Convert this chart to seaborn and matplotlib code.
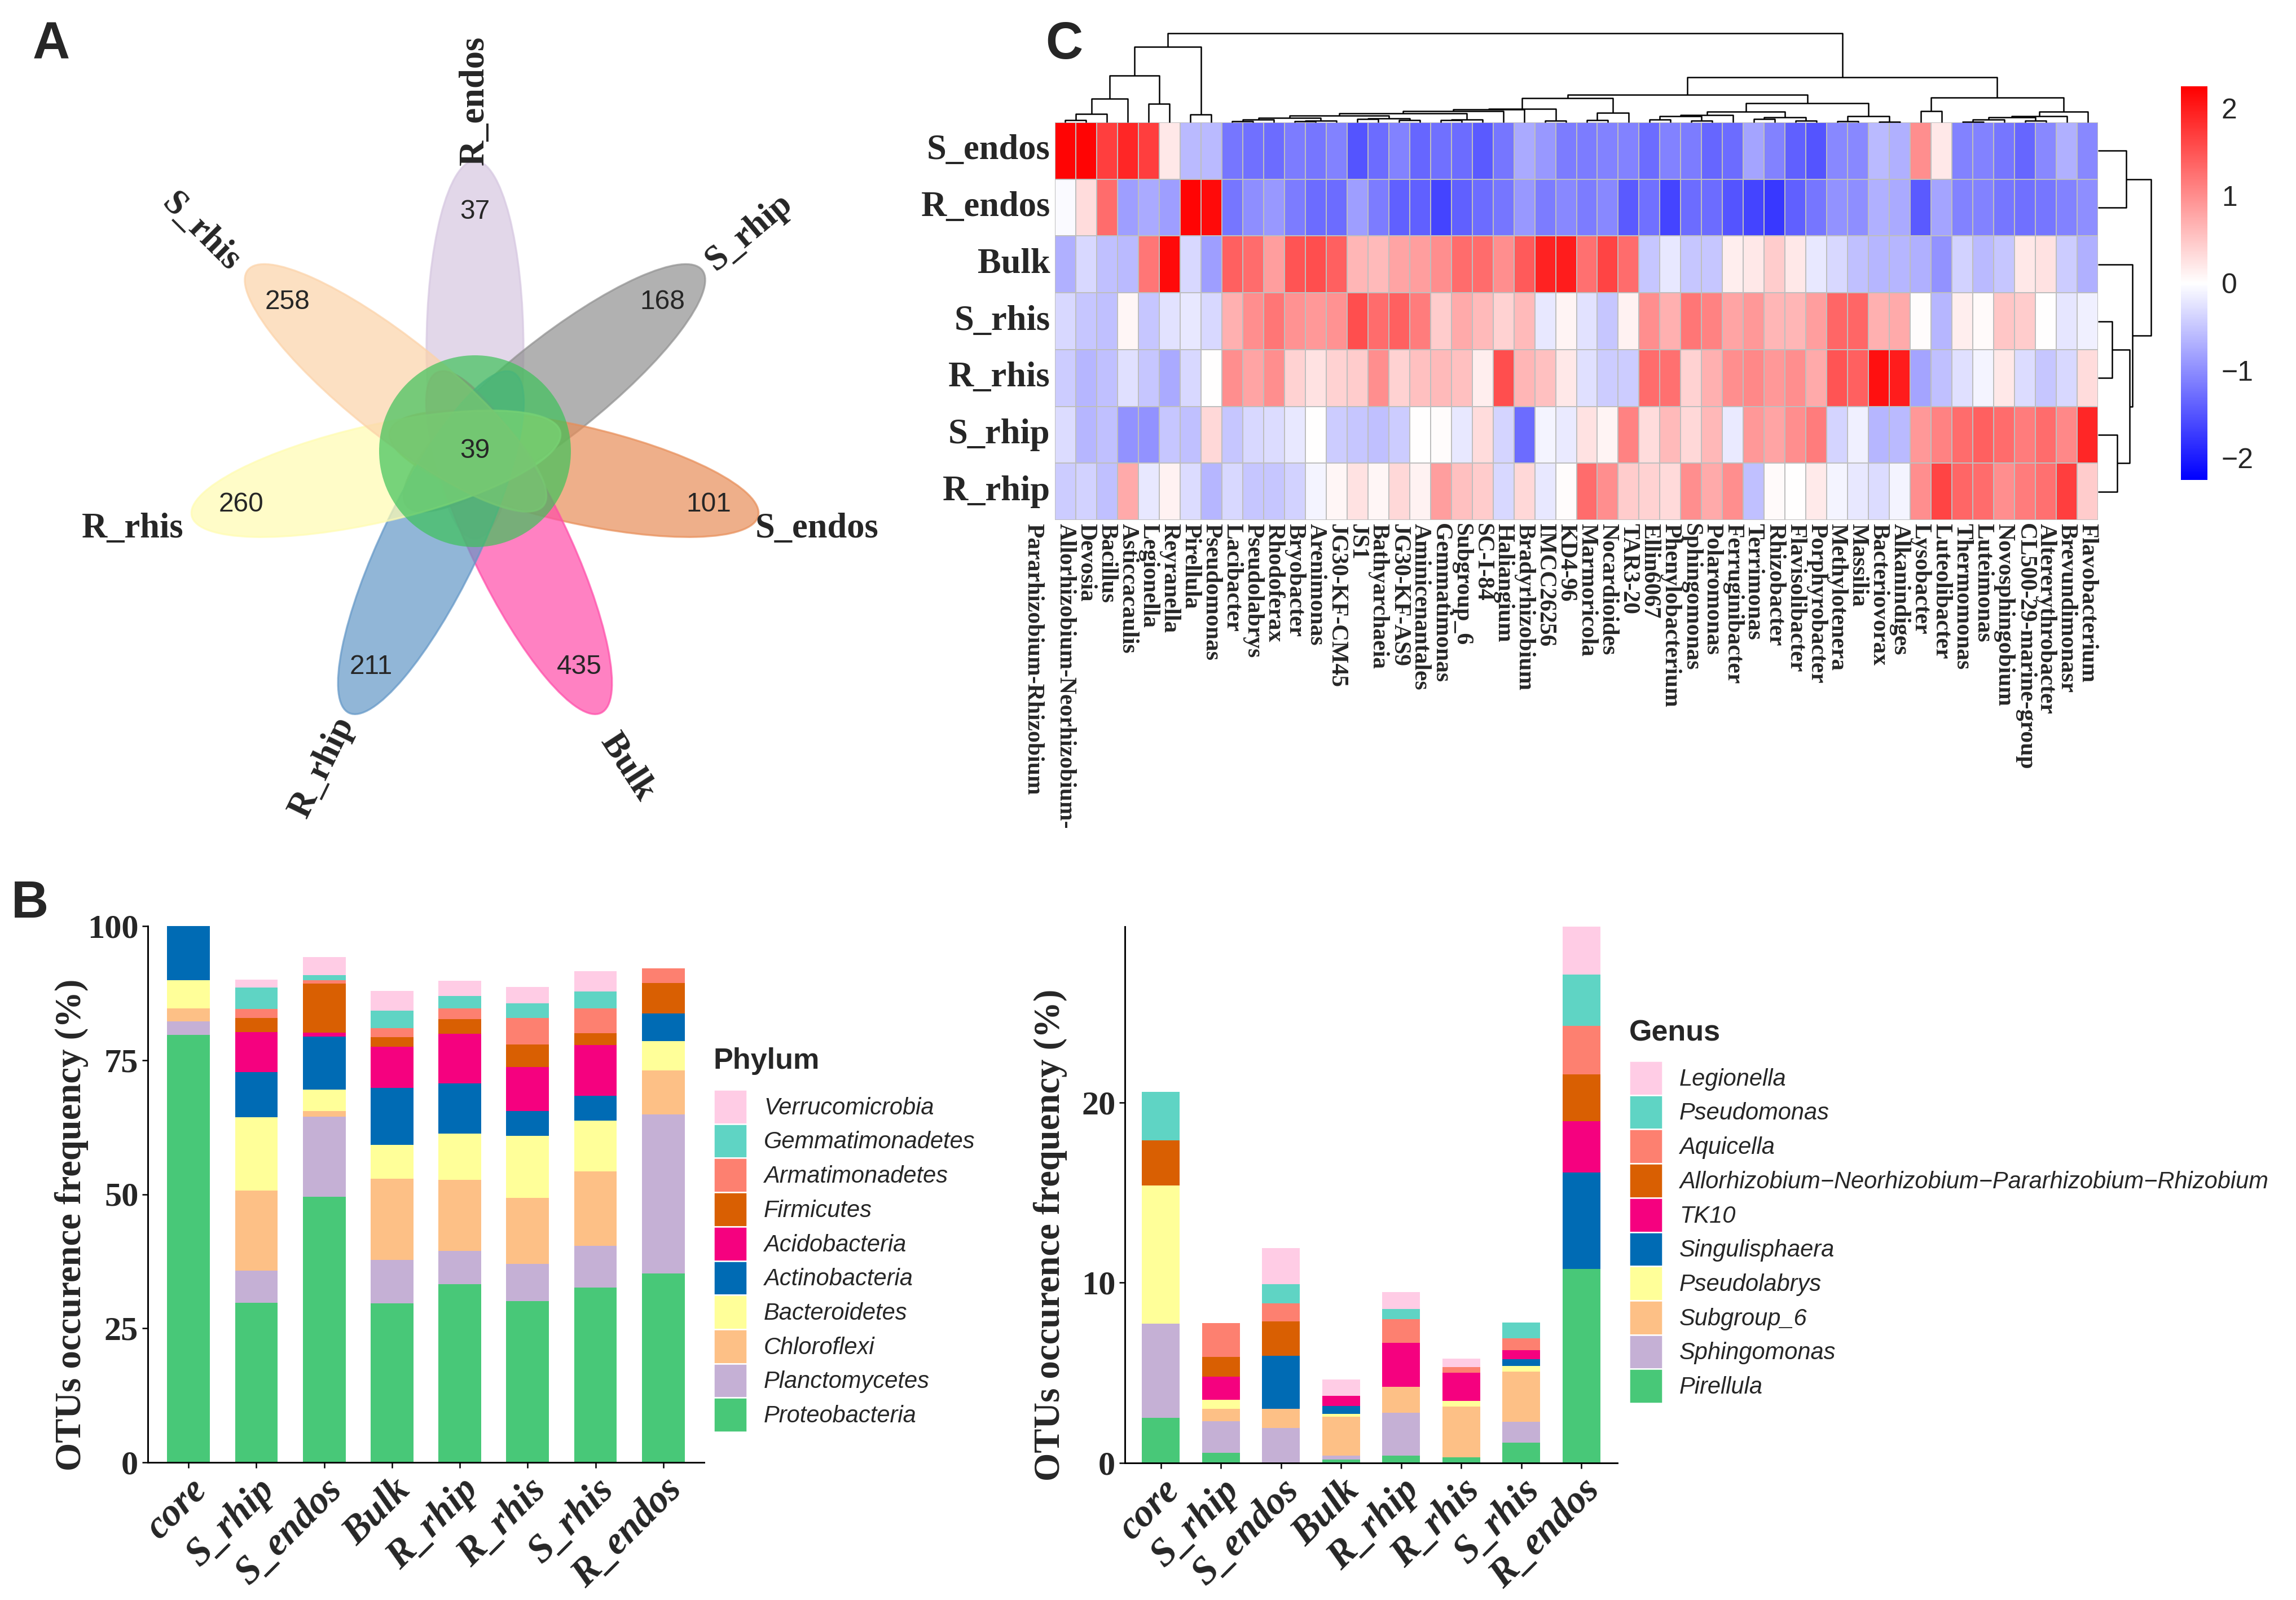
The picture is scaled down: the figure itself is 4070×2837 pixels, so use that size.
import numpy as np
import pandas as pd
import matplotlib
matplotlib.use("Agg")
import matplotlib.pyplot as plt
import matplotlib.transforms as mtransforms
from matplotlib.patches import Ellipse, Circle, Patch
from matplotlib.colors import LinearSegmentedColormap
import seaborn as sns

# ====================== DATA ======================
# ---- Panel A: flower (Venn) ----
venn_sets = ["R_endos", "S_rhip", "S_endos", "Bulk", "R_rhip", "R_rhis", "S_rhis"]
venn_unique = [37, 168, 101, 435, 211, 260, 258]
venn_core = 39

# ---- Panel C: heatmap (z-scores) ----
heat_rows = ["S_endos", "R_endos", "Bulk", "S_rhis", "R_rhis", "S_rhip", "R_rhip"]
heat_genera = [
    "Allorhizobium-Neorhizobium-\nPararhizobium-Rhizobium", "Devosia", "Bacillus", "Asticcacaulis",
    "Legionella", "Reyranella", "Pirellula", "Pseudomonas", "Lacibacter", "Pseudolabrys",
    "Rhodoferax", "Bryobacter", "Arenimonas", "JG30-KF-CM45", "JS1", "Bathyarchaeia",
    "JG30-KF-AS9", "Aminicenantales", "Gemmatimonas", "Subgroup_6", "SC-I-84", "Haliangium",
    "Bradyrhizobium", "IMCC26256", "KD4-96", "Marmoricola", "Nocardioides", "TAR3-20",
    "Ellin6067", "Phenylobacterium", "Sphingomonas", "Polaromonas", "Ferruginibacter",
    "Terrimonas", "Rhizobacter", "Flavisolibacter", "Porphyrobacter", "Methylotenera",
    "Massilia", "Bacteriovorax", "Alkanindiges", "Lysobacter", "Luteolibacter",
    "Thermomonas", "Luteimonas", "Novosphingobium", "CL500-29-marine-group",
    "Altererythrobacter", "Brevundimonasr", "Flavobacterium"]
hm_S_endos = [2.2, 2.2, 1.7, 1.9, 1.7, 0.2, -0.6, -0.6, -1.2, -1.25,
              -1.3, -1.15, -1.2, -1.1, -1.5, -1.3, -1.1, -1.35, -1.25, -1.3,
              -1.45, -1.2, -0.75, -0.9, -1.15, -1.15, -1.1, -1.1, -1.3, -1.1,
              -1.15, -1.35, -1.3, -0.8, -1.1, -1.4, -1.5, -1.05, -1.05, -0.6,
              -0.7, 1.0, 0.2, -1.1, -1.1, -1.2, -1.35, -1.05, -0.7, -1.05]
hm_R_endos = [-0.05, 0.3, 1.3, -0.85, -0.75, -0.85, 2.2, 2.15, -1.2, -1.0,
              -0.9, -1.15, -1.3, -1.3, -0.85, -1.15, -1.4, -1.4, -1.65, -1.4,
              -1.3, -1.2, -0.9, -1.15, -1.05, -1.15, -1.05, -1.45, -1.25, -1.65,
              -1.3, -1.3, -1.5, -1.65, -1.75, -1.4, -1.2, -0.95, -1.0, -0.7,
              -0.75, -1.45, -0.8, -1.1, -1.1, -1.2, -1.25, -1.2, -1.1, -1.0]
hm_Bulk = [-0.7, -0.35, -0.55, -0.6, 1.2, 2.15, -0.35, -0.85, 1.4, 1.3,
           0.85, 1.5, 1.55, 1.4, 0.65, 0.6, 0.8, 0.85, 1.0, 1.3,
           1.3, 1.0, 1.45, 1.95, 2.0, 1.25, 1.65, 1.3, -0.5, -0.2,
           -0.5, -0.5, 0.15, 0.2, 0.45, 0.2, -0.2, -0.35, -0.55, -0.65,
           -0.65, -0.7, -0.95, -0.4, -0.6, -0.5, 0.2, 0.25, -0.45, -0.7]
hm_S_rhis = [-0.35, -0.5, -0.55, 0.08, -0.5, -0.25, -0.2, -0.35, 0.7, 1.0,
             1.2, 0.95, 0.9, 0.95, 1.55, 1.3, 1.4, 1.15, 0.45, 0.75,
             0.6, 0.4, 0.6, -0.2, 0.1, -0.25, -0.5, 0.12, 1.0, 0.7,
             1.2, 1.1, 0.8, 0.9, 0.65, 0.65, 0.85, 1.35, 1.35, 0.7,
             0.75, 0.03, -0.65, 0.15, 0.05, 0.5, 0.45, 0.0, -0.22, -0.13]
hm_R_rhis = [-0.45, -0.65, -0.55, -0.28, -0.5, -0.75, -0.35, 0.0, 1.0, 0.8,
             1.0, 0.4, 0.25, 0.4, 0.45, 1.0, 0.4, 0.55, 0.6, 0.55,
             0.15, 1.55, 0.65, 0.55, 0.2, -0.28, -0.45, -0.45, 1.3, 1.25,
             0.4, 0.7, 1.0, 1.05, 0.9, 1.0, 0.75, 1.5, 1.4, 2.1,
             2.0, -0.8, -0.55, -0.28, -0.1, 0.2, -0.3, -0.5, -0.35, 0.3]
hm_S_rhip = [-0.3, -0.65, -0.55, -0.95, -0.95, -0.5, -0.55, 0.35, -0.5, -0.35,
             -0.3, -0.2, 0.0, -0.45, -0.5, -0.55, -0.45, 0.0, 0.03, -0.2,
             0.3, -0.38, -1.3, -0.1, -0.18, 0.25, 0.1, 1.1, 0.3, 0.6,
             0.35, 0.62, -0.18, 0.9, 0.8, 1.0, 1.15, -0.38, -0.13, -0.65,
             -0.6, 0.9, 1.1, 1.3, 1.4, 1.3, 1.15, 1.3, 1.05, 1.9]
hm_R_rhip = [-0.45, -0.4, -0.55, 0.75, -0.2, 0.12, -0.3, -0.65, -0.35, -0.5,
             -0.5, -0.4, -0.1, 0.08, 0.25, 0.08, 0.35, 0.12, 0.85, 0.55,
             0.45, -0.35, 0.35, -0.2, 0.03, 1.3, 1.0, 0.45, 0.4, 0.33,
             1.0, 0.75, 1.0, -0.55, 0.05, 0.0, 0.18, -0.1, -0.2, -0.3,
             -0.1, 1.0, 1.65, 1.35, 1.3, 1.0, 1.15, 1.25, 1.7, 0.45]
# dendrogram merges: [height, left, right]; leaves are column / row indices
col_tree = [158,
            [134, [83, [42, [15, [3.7, 0, 1], 2], 3], [33, 4, 5]], [14, 6, 7]],
            [80,
             [49,
              [43.3,
               [24.3,
                [23.3, [20, [15.7, [12, [7.7, [4.7, [2, 8, 9], 10], [3.3, [2, 11, 12], 13]],
                                    [7, [6, 14, 15], [4.3, 16, 17]]],
                              [5.3, [3.7, 18, 19], 20]], 21], 22],
                [3.3, 23, 24]],
               [17, [3.7, 25, 26], 27]],
              [34,
               [19, [13, [11.3, [5, 28, 29], [3, 30, 31]], 32], [9, [5.7, 33, 34], [3, 35, 36]]],
               [11, [2, 37, 38], [1.3, 39, 40]]]],
             [43.7, [20, 41, 42],
              [19, [11.3, [8.7, [4.7, [1.3, 43, 44], 45], [3.3, 46, 47]], 48], 49]]]]
row_tree = [94, [50, 0, 1], [61, 2, [56, [25, 3, 4], [34, 5, 6]]]]

# ---- Panel B: stacked bars ----
samples = ["core", "S_rhip", "S_endos", "Bulk", "R_rhip", "R_rhis", "S_rhis", "R_endos"]
phyla = ["Proteobacteria", "Planctomycetes", "Chloroflexi", "Bacteroidetes", "Actinobacteria",
         "Acidobacteria", "Firmicutes", "Armatimonadetes", "Gemmatimonadetes", "Verrucomicrobia"]
proteobacteria = [79.7, 29.8, 49.5, 29.7, 33.2, 30.1, 32.6, 35.2]
planctomycetes = [2.5, 6.0, 15.0, 8.1, 6.2, 6.9, 7.8, 29.7]
chloroflexi = [2.5, 14.9, 1.0, 15.1, 13.3, 12.3, 13.9, 8.2]
bacteroidetes = [5.2, 13.7, 4.0, 6.3, 8.6, 11.6, 9.4, 5.4]
actinobacteria = [10.1, 8.4, 9.9, 10.6, 9.4, 4.6, 4.6, 5.2]
acidobacteria = [0.0, 7.4, 0.7, 7.7, 9.2, 8.2, 9.5, 0.0]
firmicutes = [0.0, 2.7, 9.2, 1.8, 2.7, 4.2, 2.2, 5.7]
armatimonadetes = [0.0, 1.6, 0.6, 1.7, 2.0, 5.0, 4.7, 2.7]
gemmatimonadetes = [0.0, 4.0, 1.0, 3.2, 2.4, 2.7, 3.1, 0.0]
verrucomicrobia = [0.0, 1.5, 3.3, 3.7, 2.8, 3.0, 3.8, 0.0]

genera = ["Pirellula", "Sphingomonas", "Subgroup_6", "Pseudolabrys", "Singulisphaera", "TK10",
          "Allorhizobium\u2212Neorhizobium\u2212Pararhizobium\u2212Rhizobium", "Aquicella",
          "Pseudomonas", "Legionella"]
pirellula = [2.5, 0.56, 0.0, 0.18, 0.41, 0.31, 1.13, 10.76]
sphingomonas = [5.24, 1.75, 1.93, 0.23, 2.36, 0.0, 1.15, 0.0]
subgroup_6 = [0.0, 0.69, 1.07, 2.16, 1.44, 2.82, 2.78, 0.0]
pseudolabrys = [7.65, 0.49, 0.0, 0.15, 0.0, 0.31, 0.33, 0.0]
singulisphaera = [0.0, 0.0, 2.96, 0.44, 0.0, 0.0, 0.36, 5.36]
tk10 = [0.0, 1.31, 0.0, 0.56, 2.47, 1.56, 0.51, 2.85]
allorhizobium = [2.52, 1.08, 1.9, 0.0, 0.0, 0.0, 0.0, 2.6]
aquicella = [0.0, 1.87, 1.0, 0.0, 1.3, 0.31, 0.67, 2.69]
pseudomonas = [2.67, 0.0, 1.05, 0.0, 0.57, 0.0, 0.85, 2.83]
legionella = [0.0, 0.0, 2.0, 0.9, 0.92, 0.47, 0.0, 2.67]

# ====================== STYLE ======================
venn_colors = ["#D6C7E1", "#919191", "#E88E58", "#FF4CA9", "#6397C7", "#FFFCB1", "#FCD3A9"]
venn_core_color = "#3EC25A"
venn_label_rot = [90, 40, 0, -57, 64, 0, -45]
stack_palette = ["#48C878", "#C5B0D5", "#FDC086", "#FFFF99", "#006BB4",
                 "#F5017F", "#D95F02", "#FD8070", "#5FD4C4", "#FFCCE5"]

sns.set_theme(style="white")
plt.rcParams["font.family"] = ["Liberation Sans", "DejaVu Sans"]
plt.rcParams["axes.unicode_minus"] = True
SERIF = ["Liberation Serif", "DejaVu Serif"]
SANS = ["Liberation Sans", "DejaVu Sans"]

W, H, DPI = 4070, 2837, 300
fig = plt.figure(figsize=(W / DPI, H / DPI), dpi=DPI, facecolor="white")


def add_ax(x0, y0, x1, y1):
    return fig.add_axes([x0 / W, 1 - y1 / H, (x1 - x0) / W, (y1 - y0) / H])


# ====================== PANEL A ======================
axv = add_ax(0, 0, 1650, 1500)
axv.set_xlim(0, 1650)
axv.set_ylim(-1500, 0)
axv.axis("off")
cx, cy = 842, -800
n_sets = len(venn_sets)
for k, col in enumerate(venn_colors):
    th = np.deg2rad(90 - k * 360 / n_sets)
    axv.add_patch(Ellipse((cx + 180 * np.cos(th), cy + 180 * np.sin(th)), 670, 172,
                          angle=np.rad2deg(th), facecolor=col, edgecolor=col,
                          alpha=0.7, lw=0.8))
axv.add_patch(Circle((cx, cy), 170, facecolor=venn_core_color, alpha=0.7, edgecolor="none"))
for k, (name, cnt) in enumerate(zip(venn_sets, venn_unique)):
    th = np.deg2rad(90 - k * 360 / n_sets)
    axv.text(cx + 425 * np.cos(th), cy + 425 * np.sin(th), str(cnt), ha="center",
             va="center", fontsize=11.5, family=SANS)
    axv.text(cx + 622 * np.cos(th), cy + 622 * np.sin(th), name, ha="center", va="center",
             rotation=venn_label_rot[k], rotation_mode="anchor", fontsize=15,
             family=SERIF, fontweight="bold")
axv.text(cx, cy, str(venn_core), ha="center", va="center", fontsize=11.5, family=SANS)

# ====================== PANEL C ======================
hm_df = pd.DataFrame([hm_S_endos, hm_R_endos, hm_Bulk, hm_S_rhis, hm_R_rhis, hm_S_rhip, hm_R_rhip],
                     index=heat_rows, columns=heat_genera)
cmap = LinearSegmentedColormap.from_list("bwr_pheat", ["#0000FF", "#FFFFFF", "#FF0000"])
ax_hm = add_ax(1870, 217, 3719, 922)
ax_cb = add_ax(3866, 153, 3913, 851)
sns.heatmap(hm_df, ax=ax_hm, cmap=cmap, vmin=-2.25, vmax=2.25, linewidths=0.45,
            linecolor="#BEBEBE", cbar_ax=ax_cb, cbar_kws={"ticks": [-2, -1, 0, 1, 2]},
            xticklabels=True, yticklabels=True)
ax_hm.set_xlabel("")
ax_hm.set_ylabel("")
ax_hm.tick_params(axis="both", length=0)
ax_hm.tick_params(axis="x", pad=1.5)
ax_hm.tick_params(axis="y", pad=2)
first_lines = [g.split("\n")[0] for g in heat_genera]
ax_hm.set_xticks(np.arange(len(heat_genera)) + 0.5)
ax_hm.set_xticklabels(first_lines)
for t in ax_hm.get_xticklabels():
    t.set_rotation(-90)
    t.set_rotation_mode("anchor")
    t.set_ha("left")
    t.set_va("center")
    t.set_fontfamily(SERIF)
    t.set_fontweight("bold")
    t.set_fontsize(10)
for j, g in enumerate(heat_genera):
    parts = g.split("\n")
    for li, extra in enumerate(parts[1:], start=1):
        tr = mtransforms.offset_copy(ax_hm.transData, fig=fig, x=0, y=-1.5, units="points")
        ax_hm.text(j + 0.5 - li * 57 / 37.0, len(heat_rows), extra, transform=tr,
                   rotation=-90, rotation_mode="anchor", ha="left", va="center",
                   family=SERIF, fontweight="bold", fontsize=10)
ax_hm.set_yticklabels(heat_rows, rotation=0, family=SERIF, fontweight="bold", fontsize=15)

cb = ax_hm.collections[0].colorbar
cb.outline.set_visible(False)
cb.ax.tick_params(length=0, labelsize=12, pad=6)
for t in cb.ax.get_yticklabels():
    t.set_fontfamily(SANS)


def draw_tree(ax, node, orient):
    if isinstance(node, int):
        return node + 0.5, 0.0
    h, left, right = node
    pl, hl = draw_tree(ax, left, orient)
    pr, hr = draw_tree(ax, right, orient)
    pos = [pl, pl, pr, pr]
    hts = [hl, h, h, hr]
    if orient == "top":
        ax.plot(pos, hts, color="black", lw=0.6, clip_on=False, solid_capstyle="butt")
    else:
        ax.plot(hts, pos, color="black", lw=0.6, clip_on=False, solid_capstyle="butt")
    return (pl + pr) / 2, h


ax_cd = add_ax(1870, 59, 3719, 217)
ax_cd.set_xlim(0, len(heat_genera))
ax_cd.set_ylim(0, 158)
ax_cd.axis("off")
draw_tree(ax_cd, col_tree, "top")

ax_rd = add_ax(3719, 217, 3813, 922)
ax_rd.set_xlim(0, 94)
ax_rd.set_ylim(len(heat_rows), 0)
ax_rd.axis("off")
draw_tree(ax_rd, row_tree, "right")

# ====================== PANEL B ======================
def stacked(ax, names, arrays, ymax, yticks):
    df = pd.DataFrame(dict(zip(names, arrays)), index=samples)
    cum = df.cumsum(axis=1)
    long = cum.reset_index(names="sample").melt(id_vars="sample", var_name="taxon", value_name="cum")
    pal = dict(zip(names, stack_palette))
    sns.barplot(data=long, x="sample", y="cum", hue="taxon", hue_order=names[::-1],
                order=samples, palette=pal, dodge=False, width=0.63, saturation=1,
                errorbar=None, linewidth=0, legend=False, ax=ax)
    ax.set_xlim(-0.6, len(samples) - 0.4)
    ax.set_ylim(0, ymax)
    ax.set_xlabel("")
    ax.set_ylabel("")
    for s in ["top", "right"]:
        ax.spines[s].set_visible(False)
    for s in ["left", "bottom"]:
        ax.spines[s].set_color("black")
        ax.spines[s].set_linewidth(0.7)
    ax.tick_params(axis="both", bottom=True, left=True, length=2.5, width=0.6,
                   color="black", pad=1.5)
    ax.set_xticks(range(len(samples)))
    ax.set_xticklabels(samples, rotation=45, ha="right", va="top", rotation_mode="anchor",
                       family=SERIF, fontweight="bold", fontstyle="italic", fontsize=16.5)
    ax.set_yticks(yticks)
    ax.set_yticklabels([str(v) for v in yticks], family=SERIF, fontweight="bold",
                       fontsize=14.5)
    ax.set_facecolor("white")
    return pal


def stack_legend(names, pal, title, x0, ytitle, ykeys):
    handles = [Patch(facecolor=pal[nm], edgecolor="white", linewidth=0.6, label=nm)
               for nm in names[::-1]]
    fs_px = 10 * DPI / 72
    key_h = 60.7 / fs_px
    hh = (key_h - 0.245) / 0.65   # matplotlib shrinks handle height by a descent heuristic
    fig.legend(handles=handles, loc="upper left", bbox_to_anchor=(x0 / W, 1 - ykeys / H),
               bbox_transform=fig.transFigure, frameon=False, borderpad=0, borderaxespad=0,
               labelspacing=0, handlelength=59 / fs_px, handleheight=hh,
               handletextpad=0.72, prop=dict(family=SANS, style="italic", size=10))
    fig.text(x0 / W, 1 - ytitle / H, title, ha="left", va="center", fontsize=12.5,
             fontweight="bold", family=SANS)


ax_b1 = add_ax(262, 1642, 1248, 2593)
pal1 = stacked(ax_b1, phyla,
               [proteobacteria, planctomycetes, chloroflexi, bacteroidetes, actinobacteria,
                acidobacteria, firmicutes, armatimonadetes, gemmatimonadetes, verrucomicrobia],
               100, [0, 25, 50, 75, 100])
stack_legend(phyla, pal1, "Phylum", 1265, 1882, 1932)

gen_arrays = [pirellula, sphingomonas, subgroup_6, pseudolabrys, singulisphaera, tk10,
              allorhizobium, aquicella, pseudomonas, legionella]
gen_top = float(np.sum(gen_arrays, axis=0).max())
ax_b2 = add_ax(1994, 1643, 2867, 2594)
pal2 = stacked(ax_b2, genera, gen_arrays, gen_top, [0, 10, 20])
stack_legend(genera, pal2, "Genus", 2888, 1832, 1881)

ylab = "OTUs occurence frequency (%)"
fig.text(127 / W, 1 - 2172 / H, ylab, rotation=90, ha="center", va="center",
         fontsize=15.5, fontweight="bold", family=SERIF)
fig.text(1862 / W, 1 - 2190 / H, ylab, rotation=90, ha="center", va="center",
         fontsize=15.5, fontweight="bold", family=SERIF)

# ====================== PANEL LETTERS ======================
for letter, (px, py) in {"A": (91, 80), "B": (53, 1603), "C": (1886, 80)}.items():
    fig.text(px / W, 1 - py / H, letter, ha="center", va="center", fontsize=22,
             fontweight="bold", family=SANS)

fig.savefig("out.png", dpi=DPI, facecolor="white")
